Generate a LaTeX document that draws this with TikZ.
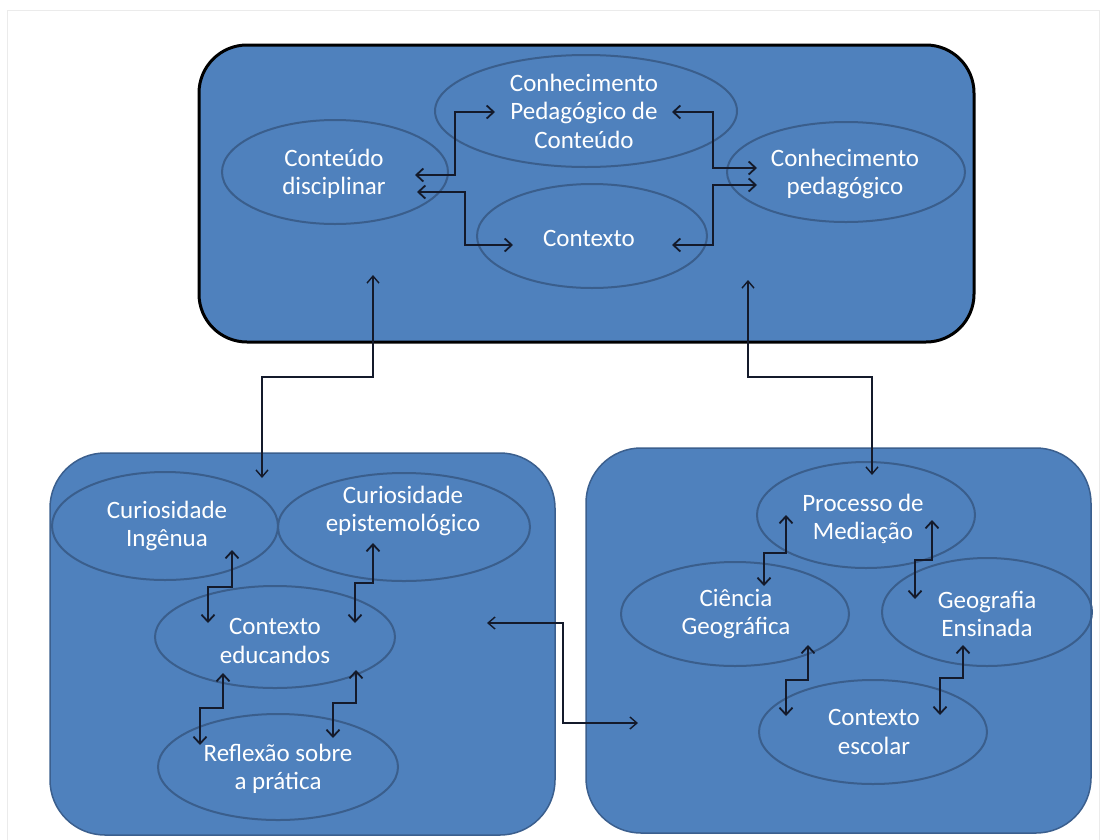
\documentclass[tikz,border=0pt]{standalone}
\usepackage{fontspec}
\setmainfont{Carlito}
\usetikzlibrary{arrows.meta,shapes.geometric}
\definecolor{boxblue}{HTML}{4F81BD}
\definecolor{ellline}{HTML}{3A5E8C}
\definecolor{panelline}{HTML}{3B5F8E}
\definecolor{arr}{HTML}{141A2B}
\begin{document}
\begin{tikzpicture}[x=1pt,y=-1pt,
  panel/.style={rectangle, fill=boxblue, inner sep=0pt},
  ell/.style={ellipse, draw=ellline, line width=2pt, inner sep=0pt},
  txt/.style={text=white, font=\fontsize{25}{28.5}\selectfont, align=center, inner sep=0pt},
  link/.style={draw=arr, line width=1.8pt, {Straight Barb[length=7pt,width=13pt]}-{Straight Barb[length=7pt,width=13pt]}},
  bridge/.style={draw=arr, line width=1.4pt, {Straight Barb[length=7pt,width=12pt]}-{Straight Barb[length=7pt,width=12pt]}}]
\useasboundingbox (0,0) rectangle (1106,839);
\draw[black!8, line width=1pt] (7,10) rectangle (1099,860);

% panels
\node[panel, draw=black, line width=3pt, rounded corners=48pt, minimum width=775pt, minimum height=297pt] (top) at (586.5,193.5) {};
\node[panel, draw=panelline, line width=1.5pt, rounded corners=55pt, minimum width=505pt, minimum height=382pt] (left) at (302.5,644) {};
\node[panel, draw=panelline, line width=1.5pt, rounded corners=55pt, minimum width=505pt, minimum height=385pt] (right) at (838.5,640.5) {};

% top ellipses
\node[ell, minimum width=226pt, minimum height=104pt] (cd) at (335,172) {};
\node[ell, minimum width=302pt, minimum height=112pt] (cpc) at (586,111) {};
\node[ell, minimum width=230pt, minimum height=104pt] (ctx) at (592,236) {};
\node[ell, minimum width=238pt, minimum height=100pt] (cp) at (846,172) {};
\node[txt] (cdT) at (334,174) {Conteúdo\\disciplinar};
\node[txt] (cpcT) at (584,111) {Conhecimento\\Pedagógico de\\Conteúdo};
\node[txt] (ctxT) at (589,238) {Contexto};
\node[txt] (cpT) at (845,174) {Conhecimento\\pedagógico};

% bottom-left ellipses
\node[ell, minimum width=226pt, minimum height=108pt] (ci) at (165,526) {};
\node[ell, minimum width=252pt, minimum height=108pt] (cep) at (404,527) {};
\node[ell, minimum width=240pt, minimum height=102pt] (ce) at (275,637) {};
\node[ell, minimum width=240pt, minimum height=106pt] (rp) at (278,767) {};
\node[txt] (ciT) at (167,526) {Curiosidade\\Ingênua};
\node[txt] (cepT) at (403,511) {Curiosidade\\epistemológico};
\node[txt] (ceT) at (275,641) {Contexto\\educandos};
\node[txt] (rpT) at (278,769) {Reflexão sobre\\a prática};

% bottom-right ellipses
\node[ell, minimum width=218pt, minimum height=106pt] (pm) at (866,515) {};
\node[ell, minimum width=228pt, minimum height=104pt] (cg) at (735,614) {};
\node[ell, minimum width=210pt, minimum height=108pt] (ge) at (987,612) {};
\node[ell, minimum width=228pt, minimum height=104pt] (ces) at (873,732) {};
\node[txt] (pmT) at (863,519) {Processo de\\Mediação};
\node[txt] (cgT) at (736,614) {Ciência\\Geográfica};
\node[txt] (geT) at (987,614) {Geografia\\Ensinada};
\node[txt] (cesT) at (874,732) {Contexto\\escolar};

% arrow end points
\coordinate (a1s) at (415,175); \coordinate (a1e) at (495,112);
\coordinate (a2s) at (417,192); \coordinate (a2e) at (513,245);
\coordinate (a3s) at (672,112); \coordinate (a3e) at (757,168);
\coordinate (a4s) at (672,245); \coordinate (a4e) at (757,185);
\coordinate (c1s) at (373,275); \coordinate (c1e) at (262,478);
\coordinate (c2s) at (748,280); \coordinate (c2e) at (872,475);
\coordinate (c3s) at (487,623); \coordinate (c3e) at (638,723);
\coordinate (b1s) at (232,550); \coordinate (b1e) at (208,623);
\coordinate (b2s) at (373,543); \coordinate (b2e) at (355,623);
\coordinate (b3s) at (223,673); \coordinate (b3e) at (200,745);
\coordinate (b4s) at (356,670); \coordinate (b4e) at (333,738);
\coordinate (r1s) at (786,515); \coordinate (r1e) at (764,586);
\coordinate (r2s) at (932,520); \coordinate (r2e) at (915,599);
\coordinate (r3s) at (808,645); \coordinate (r3e) at (786,716);
\coordinate (r4s) at (963,645); \coordinate (r4e) at (940,715);

% top connectors
\draw[link] (a1s) -- ++(40,0) |- (a1e);
\draw[link] (a2s) -- ++(48,0) |- (a2e);
\draw[link] (a3s) -- ++(41,0) |- (a3e);
\draw[link] (a4s) -- ++(41,0) |- (a4e);

% between panels
\draw[bridge] (c1s) -- ++(0,102) -| (c1e);
\draw[bridge] (c2s) -- ++(0,97) -| (c2e);
\draw[bridge] (c3s) -- ++(76,0) |- (c3e);

% bottom-left connectors
\draw[link] (b1s) -- ++(0,37) -| (b1e);
\draw[link] (b2s) -- ++(0,40) -| (b2e);
\draw[link] (b3s) -- ++(0,35) -| (b3e);
\draw[link] (b4s) -- ++(0,33) -| (b4e);

% bottom-right connectors
\draw[link] (r1s) -- ++(0,38) -| (r1e);
\draw[link] (r2s) -- ++(0,40) -| (r2e);
\draw[link] (r3s) -- ++(0,35) -| (r3e);
\draw[link] (r4s) -- ++(0,33) -| (r4e);
\end{tikzpicture}
\end{document}
